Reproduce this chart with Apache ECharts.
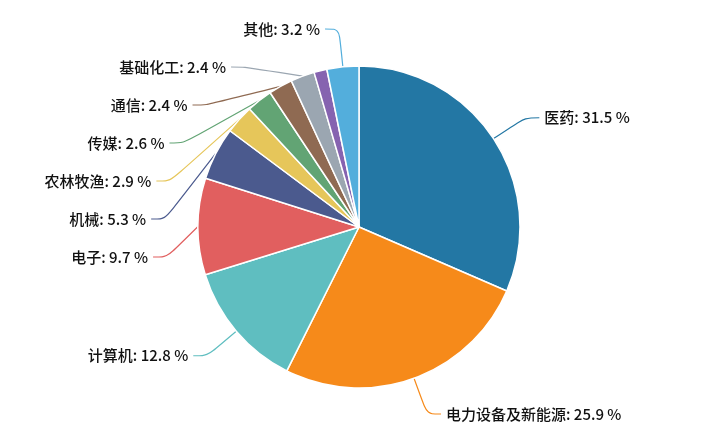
<!DOCTYPE html>
<html><head><meta charset="utf-8">
<script src="https://cdn.jsdelivr.net/npm/echarts@6/dist/echarts.min.js"></script>
<style>html,body{margin:0;padding:0;background:#fff}#c{width:704px;height:447px}</style>
</head><body><div id="c"></div>
<script>
var categories = ['医药', '电力设备及新能源', '计算机', '电子', '机械', '农林牧渔', '传媒', '通信', '基础化工', '其他行业', '其他'];
var values = [31.5, 25.9, 12.8, 9.7, 5.3, 2.9, 2.6, 2.4, 2.4, 1.3, 3.2];
var colors = ['#2377a4', '#f68a1a', '#5fbec0', '#e15f5f', '#4b5a8e', '#e6c65a', '#62a474', '#8f6a52', '#9ba6b1', '#8663b0', '#53aedc'];

var data = [];
for (var i = 0; i < categories.length; i++) {
    var item = { name: categories[i], value: values[i], itemStyle: { color: colors[i] } };
    // 紫色小块没有标签
    if (i == 9) { item.label = { show: false }; item.labelLine = { show: false }; }
    data.push(item);
}

var myChart = echarts.init(document.getElementById('c'));
myChart.setOption({
    animation: false,
    series: [{
        type: 'pie',
        center: [359, 227],
        radius: 161,
        startAngle: 90,
        data: data,
        itemStyle: { borderColor: '#fff', borderWidth: 1.5 },
        label: {
            formatter: function (p) { return p.name + ': ' + p.value + ' %'; },
            color: '#111',
            fontSize: 15,
            fontWeight: 500,
            lineHeight: 36,
            fontFamily: 'Noto Sans CJK SC'
        },
        labelLine: { length: 38, length2: 14, smooth: true, lineStyle: { width: 1.2 } }
    }]
});
</script></body></html>
